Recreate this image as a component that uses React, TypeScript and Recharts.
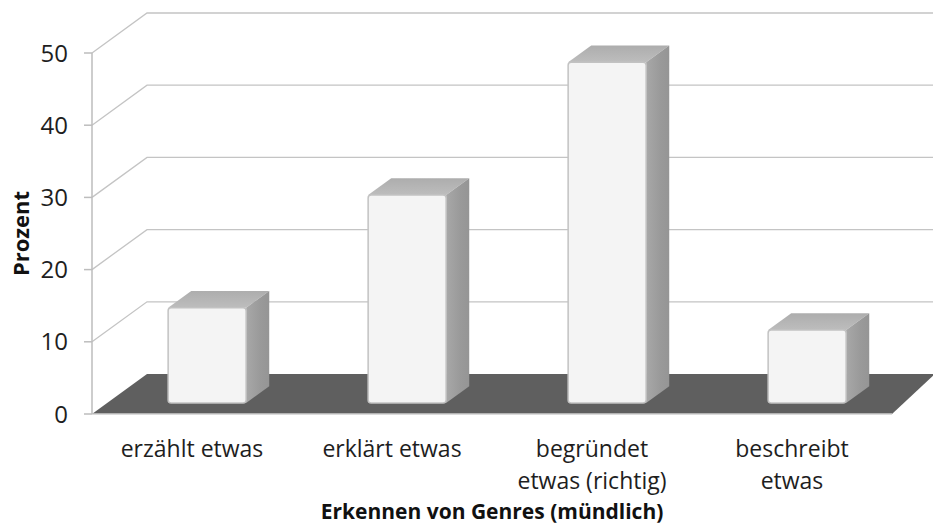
import { BarChart, Bar, XAxis, YAxis, CartesianGrid } from 'recharts';

// Erkennen von Genres (mündlich), Anteil in Prozent
const categories = ['erzählt etwas', 'erklärt etwas', 'begründet etwas (richtig)', 'beschreibt etwas'];
const categoryLines = [['erzählt etwas'], ['erklärt etwas'], ['begründet', 'etwas (richtig)'], ['beschreibt', 'etwas']];
const percentages = [13.2, 28.8, 47.2, 10.1];
const yTicks = [0, 10, 20, 30, 40, 50];

const data = categories.map((name, i) => ({ name, value: percentages[i], lines: categoryLines[i] }));

// fake 3D: offset of the back wall relative to the front plane
const DEPTH_X = 55;
const DEPTH_Y = -40;
const BAR_FRONT = 0.275; // where the bar's front face sits inside the floor depth
const BAR_DEPTH = 0.42;
const FONT = '"Open Sans", sans-serif';

function PerspectiveLine(props: any) {
  const { x1, x2, y1, index } = props;
  if (index === 0 || Math.abs(y1 - 414) < 1) {
    // floor
    const pts = [
      [x1, y1],
      [x1 + DEPTH_X, y1 + DEPTH_Y],
      [x2 + DEPTH_X * 0.78, y1 + DEPTH_Y],
      [x2, y1],
    ];
    return (
      <g key={`floor-${index}`}>
        <polygon points={pts.map((p) => p.join(',')).join(' ')} fill="#5f5f5f" />
      </g>
    );
  }
  return (
    <polyline
      key={`grid-${index}`}
      points={`${x1},${y1} ${x1 + DEPTH_X},${y1 + DEPTH_Y} ${x2 + DEPTH_X},${y1 + DEPTH_Y}`}
      fill="none"
      stroke="#c4c4c4"
      strokeWidth={1.3}
    />
  );
}

function Bar3D(props: any) {
  const { x, y, width, height } = props;
  const fx = x + DEPTH_X * BAR_FRONT;
  const fy = y + DEPTH_Y * BAR_FRONT;
  const bx = DEPTH_X * BAR_DEPTH;
  const by = DEPTH_Y * BAR_DEPTH;
  const r = fx + width;
  return (
    <g>
      <polygon
        points={`${fx},${fy} ${fx + bx},${fy + by} ${r + bx},${fy + by} ${r},${fy}`}
        fill="url(#topFace)"
      />
      <polygon
        points={`${r},${fy} ${r + bx},${fy + by} ${r + bx},${fy + by + height} ${r},${fy + height}`}
        fill="url(#sideFace)"
      />
      <rect x={fx} y={fy} width={width} height={height} rx={3} fill="#f4f4f4" stroke="#c2c2c2" strokeWidth={1.5} />
    </g>
  );
}

function CategoryTick(props: any) {
  const { x, y, payload, index } = props;
  const lines = categoryLines[index] ?? [payload.value];
  return (
    <text x={x} y={y} textAnchor="middle" fill="#1e1e1e" fontFamily={FONT} fontSize={23}>
      {lines.map((l: string, i: number) => (
        <tspan key={i} x={x} dy={i === 0 ? 35 : 32}>
          {l}
        </tspan>
      ))}
    </text>
  );
}

function ProzentLabel(props: any) {
  const { viewBox } = props;
  const cx = viewBox.x + 20;
  const cy = viewBox.y + viewBox.height / 2;
  return (
    <text
      x={cx}
      y={cy}
      transform={`rotate(-90, ${cx}, ${cy})`}
      textAnchor="middle"
      dominantBaseline="central"
      fill="#111"
      fontFamily={FONT}
      fontSize={22}
      fontWeight={700}
    >
      Prozent
    </text>
  );
}

export default function App() {
  return (
    <div style={{ position: 'absolute', left: 0, top: 0 }}>
      <BarChart
        width={933}
        height={531}
        data={data}
        margin={{ top: 53, right: 41, bottom: 0, left: 0 }}
        barSize={78}
        style={{ background: '#fff' }}
      >
        <defs>
          <linearGradient id="sideFace" x1="0" y1="0" x2="1" y2="0">
            <stop offset="0" stopColor="#a8a8a8" />
            <stop offset="0.6" stopColor="#9a9a9a" />
            <stop offset="1" stopColor="#959595" />
          </linearGradient>
          <linearGradient id="topFace" x1="0" y1="1" x2="0" y2="0">
            <stop offset="0" stopColor="#bdbdbd" />
            <stop offset="1" stopColor="#adadad" />
          </linearGradient>
        </defs>
        <CartesianGrid vertical={false} horizontal={PerspectiveLine} />
        <XAxis
          dataKey="name"
          height={117}
          axisLine={{ stroke: '#cfcfcf', strokeWidth: 1.5 }}
          tickLine={false}
          tick={CategoryTick}
          interval={0}
          label={{
            value: 'Erkennen von Genres (mündlich)',
            position: 'insideBottom',
            offset: 12,
            fill: '#111',
            fontFamily: FONT,
            fontSize: 21,
            fontWeight: 700,
          }}
        />
        <YAxis
          width={92}
          domain={[0, 50]}
          ticks={yTicks}
          interval={0}
          axisLine={{ stroke: '#bdbdbd', strokeWidth: 1.5 }}
          tickLine={{ stroke: '#bdbdbd', strokeWidth: 1.5 }}
          tickSize={8}
          tickMargin={16}
          tick={{ fill: '#1e1e1e', fontFamily: FONT, fontSize: 24 }}
          label={<ProzentLabel />}
        />
        <Bar dataKey="value" shape={Bar3D} isAnimationActive={false} />
      </BarChart>
    </div>
  );
}
